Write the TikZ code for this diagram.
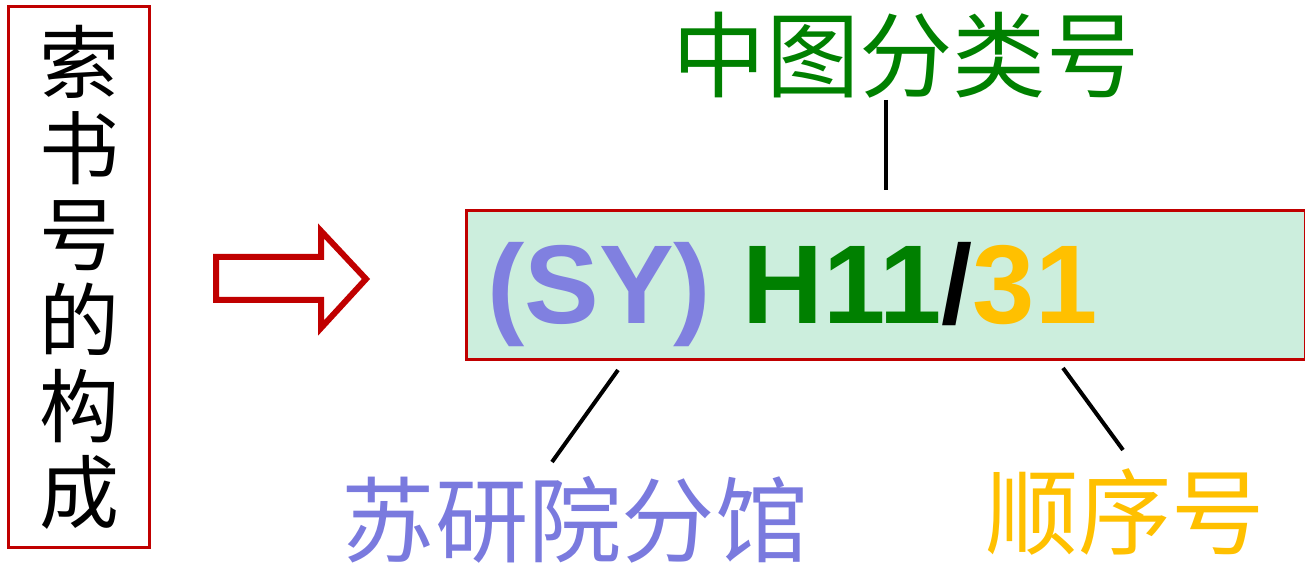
\documentclass[tikz,border=0pt]{standalone}
\usepackage{fontspec}
\setmainfont{Liberation Sans}
\newfontfamily\cjk{Noto Sans CJK SC}
\usetikzlibrary{positioning}
\definecolor{cnred}{RGB}{192, 0, 0}
\definecolor{cngreen}{RGB}{0, 128, 0}
\definecolor{cnblue}{RGB}{128, 128, 224}
\definecolor{cnpurple}{RGB}{122, 122, 222}
\definecolor{cnyellow}{RGB}{255, 192, 0}
\definecolor{cnmint}{RGB}{204, 238, 221}

\begin{document}
\begin{tikzpicture}[x=0.75pt, y=-0.75pt,
  redbox/.style={draw=cnred, line width=2.5pt, inner sep=0pt},
  label/.style={font=\cjk\fontsize{70}{74}\selectfont, inner sep=0pt},
  link/.style={line width=3pt, black}]
\useasboundingbox (0,0) rectangle (1305,566);

% Title box
\node[redbox, minimum width=106pt, minimum height=406pt, align=center,
  font=\cjk\fontsize{60}{64.5}\selectfont] (title) at (79,277)
  {索\\书\\号\\的\\构\\成};

% Arrow
\draw[cnred, line width=4.5pt] (216,257) -- (321,257) -- (321,231)
  -- (366,279) -- (321,328) -- (321,300) -- (216,300) -- cycle;

% Call number box
\node[redbox, fill=cnmint, minimum width=629pt, minimum height=112pt] (code) at (886,285) {};
\node[anchor=west, inner sep=0pt, font=\bfseries\fontsize{84}{90}\selectfont] (num) at (487,295)
  {\textcolor{cnblue}{(SY)} \textcolor{cngreen}{H11}/\textcolor{cnyellow}{31}};

% Labels
\node[label, text=cngreen] (cls) at (906,55) {中图分类号};
\node[label, text=cnpurple] (lib) at (575,520) {苏研院分馆};
\node[label, text=cnyellow] (seq) at (1125,512) {顺序号};

% Connectors
\coordinate (cls-end) at (886,190);
\coordinate (lib-top) at (618,370);
\coordinate (lib-end) at (552,462);
\coordinate (seq-top) at (1063,368);
\coordinate (seq-end) at (1123,450);
\draw[link] (cls-end |- 0,100) -- (cls-end);
\draw[link] (lib-top) -- (lib-end);
\draw[link] (seq-top) -- (seq-end);
\end{tikzpicture}
\end{document}
